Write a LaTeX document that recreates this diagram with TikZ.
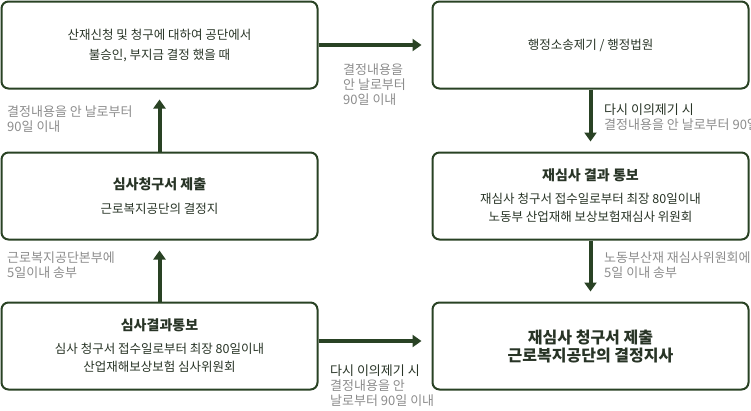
\documentclass[tikz,border=0pt]{standalone}
\usepackage{fontspec}
\setmainfont{Noto Sans CJK KR}
\usetikzlibrary{arrows.meta,positioning}

\definecolor{boxgreen}{RGB}{41,66,36}
\definecolor{textdark}{RGB}{40,52,38}
\definecolor{labelgray}{RGB}{140,140,140}

\newcommand{\headline}[1]{{\fontsize{14}{18}\selectfont\bfseries #1}}
\newcommand{\bigheadline}[1]{{\fontsize{16}{20}\selectfont\bfseries #1}}

\begin{document}
\begin{tikzpicture}[x=1pt,y=-1pt,
    box/.style={rectangle, draw=boxgreen, line width=2pt, rounded corners=7pt,
        minimum width=316pt, minimum height=87pt, align=center, text=textdark,
        font=\fontsize{12.5}{18}\selectfont},
    flow/.style={draw=boxgreen, line width=4pt, -{Triangle[width=12pt,length=9pt]}, shorten >=10pt},
    note/.style={anchor=base west, align=left, inner sep=0pt, text=labelgray,
        font=\fontsize{13}{15}\selectfont}]

                \useasboundingbox (0,0) rectangle (751,410);

                % left column
                \node[box] (A) at (159.5,45) {산재신청 및 청구에 대하여 공단에서\\[2pt]불승인, 부지금 결정 했을 때};
                \node[box] (B) at (159.5,196) {\headline{심사청구서 제출}\\[6pt]근로복지공단의 결정지};
                \node[box] (C) at (159.5,346) {\headline{심사결과통보}\\[5pt]심사 청구서 접수일로부터 최장 80일이내\\산업재해보상보험 심사위원회};

                % right column
                \node[box] (T) at (590.5,45) {행정소송제기 / 행정법원};
                \node[box] (R) at (590.5,196) {\headline{재심사 결과 통보}\\[5pt]재심사 청구서 접수일로부터 최장 80일이내\\노동부 산업재해 보상보험재심사 위원회};
                \node[box] (S) at (590.5,346) {\bigheadline{재심사 청구서 제출}\\\bigheadline{근로복지공단의 결정지사}};

                \foreach \s/ \d in {C/B, B/A, A/T, T/R, R/S}{
                    \draw[flow] (\s) -- (\d);
                }
                \draw[flow] ([yshift=5pt]C.east) -- ([yshift=5pt]S.west);

                % notes (placed at the baseline of their last line)
                \foreach \n/ \x/ \y/ \t in {n1/343/104/{결정내용을\\안 날로부터\\90일 이내},
                        n2/7/131.5/{결정내용을 안 날로부터\\90일 이내},
                        n3/7/277/{근로복지공단본부에\\5일이내 송부},
                        n4/604/277.5/{노동부산재 재심사위원회에\\5일 이내 송부}}{
                    \node[note] (\n) at (\x,\y) {\t};
                }
                \node[note] (n5) at (604,129) {{\color{textdark}다시 이의제기 시}\\결정내용을 안 날로부터 90일};
                \node[note] (n6) at (330,405) {{\color{textdark}다시 이의제기 시}\\결정내용을 안\\날로부터 90일 이내};

\end{tikzpicture}
\end{document}
